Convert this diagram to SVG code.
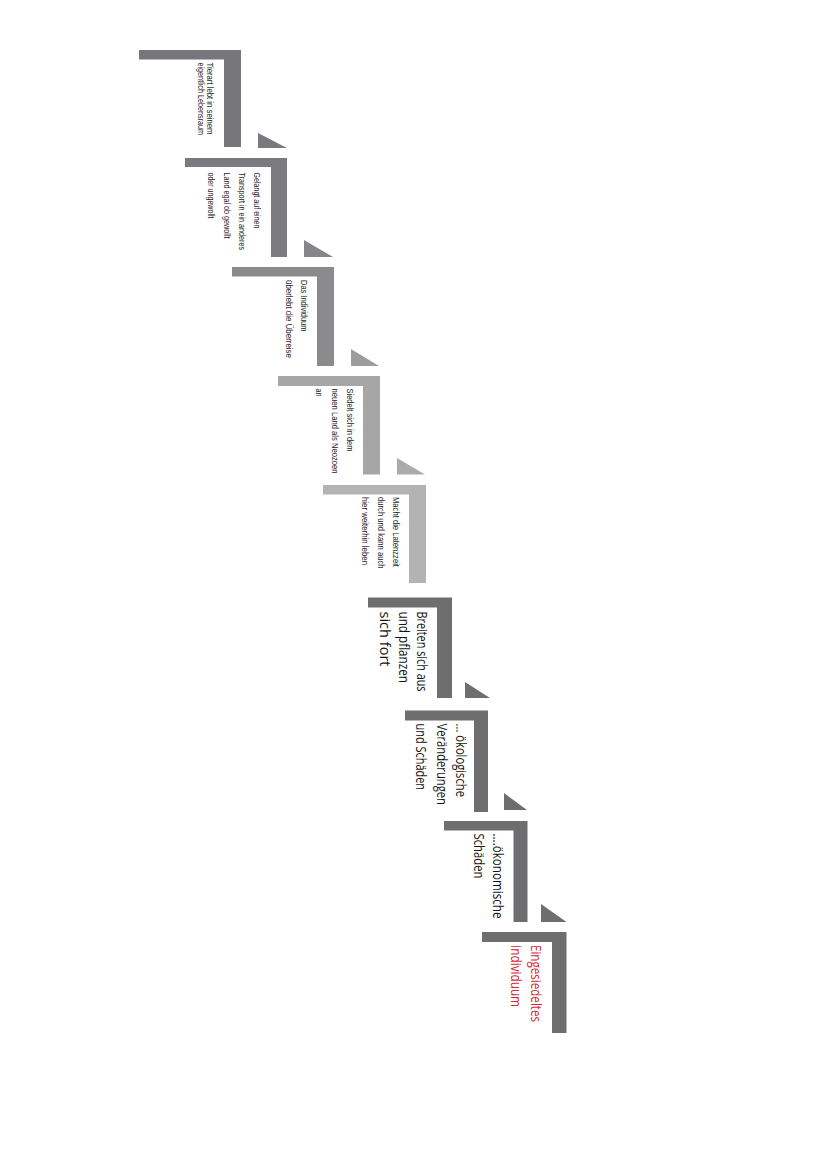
<svg xmlns="http://www.w3.org/2000/svg" width="828" height="1171" viewBox="0 0 828 1171">
<style>
.sm{font-family:"Liberation Sans",Arial,sans-serif;font-size:9.5px;fill:#1e1e1e}
.lg{font-family:"Open Sans","Noto Sans",sans-serif;font-size:15px;fill:#141414}
.red{fill:#d42a33}
</style>
<rect width="828" height="1171" fill="#ffffff"/>
<g id="connectors">
<polygon points="258,133 258,148 287,148" fill="#7a7a7e"/>
<polygon points="304,240 304,257 333,257" fill="#86868a"/>
<polygon points="351,349 351,366 379,366" fill="#9c9c9e"/>
<polygon points="397,458 397,474.5 425,474.5" fill="#ababab"/>
<polygon points="465,682 465,698 490,698" fill="#6e6e71"/>
<polygon points="504,793 504,810 527,810" fill="#6e6e71"/>
<polygon points="541,904 541,922 566.5,922" fill="#6e6e71"/>
</g>
<g id="step1">
<path d="M139,50 H241 V147 H224 V59.5 H139 Z" fill="#77777b"/>
<text class="sm" transform="translate(207.3,62.5) rotate(90)" textLength="72" lengthAdjust="spacingAndGlyphs">Tierart lebt in seinem</text>
<text class="sm" transform="translate(198.3,62.5) rotate(90)" textLength="72.5" lengthAdjust="spacingAndGlyphs">eigentlich Lebensraum</text>
</g>
<g id="step2">
<path d="M185,158 H287 V257 H271 V167 H185 Z" fill="#7b7b7f"/>
<text class="sm" transform="translate(254.3,172.5) rotate(90)" textLength="56" lengthAdjust="spacingAndGlyphs">Gelangt auf einen</text>
<text class="sm" transform="translate(239.3,172.5) rotate(90)" textLength="77.5" lengthAdjust="spacingAndGlyphs">Transport in ein anderes</text>
<text class="sm" transform="translate(224.3,172.5) rotate(90)" textLength="66" lengthAdjust="spacingAndGlyphs">Land egal ob gewollt</text>
<text class="sm" transform="translate(208.3,172.5) rotate(90)" textLength="46" lengthAdjust="spacingAndGlyphs">oder ungewollt</text>
</g>
<g id="step3">
<path d="M232,267 H334 V366 H317 V276.5 H232 Z" fill="#8b8b8d"/>
<text class="sm" transform="translate(301,280) rotate(90)" textLength="51.5" lengthAdjust="spacingAndGlyphs">Das Individuum</text>
<text class="sm" transform="translate(285.5,280) rotate(90)" textLength="78" lengthAdjust="spacingAndGlyphs">überlebt die Überreise</text>
</g>
<g id="step4">
<path d="M278,376 H380 V474.5 H363 V386 H278 Z" fill="#a6a6a6"/>
<text class="sm" transform="translate(347,388.5) rotate(90)" textLength="63" lengthAdjust="spacingAndGlyphs">Siedelt sich in dem</text>
<text class="sm" transform="translate(331.5,388.5) rotate(90)" textLength="85" lengthAdjust="spacingAndGlyphs">neuen Land als Neozoen</text>
<text class="sm" transform="translate(315.5,388.5) rotate(90)" textLength="8" lengthAdjust="spacingAndGlyphs">an</text>
</g>
<g id="step5">
<path d="M323,485 H426 V583 H409 V494.5 H323 Z" fill="#b3b3b3"/>
<text class="sm" transform="translate(392.5,497) rotate(90)" textLength="70" lengthAdjust="spacingAndGlyphs">Macht die Latenzzeit</text>
<text class="sm" transform="translate(377.5,497) rotate(90)" textLength="71.5" lengthAdjust="spacingAndGlyphs">durch und kann auch</text>
<text class="sm" transform="translate(362,497) rotate(90)" textLength="68" lengthAdjust="spacingAndGlyphs">hier weiterhin leben</text>
</g>
<g id="step6">
<path d="M368,597.5 H452 V698 H437 V607.5 H368 Z" fill="#6e6e71"/>
<text class="lg" transform="translate(417,611.5) rotate(90)" textLength="80" lengthAdjust="spacingAndGlyphs">Breiten sich aus</text>
<text class="lg" transform="translate(398.7,611.5) rotate(90)" textLength="71.5" lengthAdjust="spacingAndGlyphs">und pflanzen</text>
<text class="lg" transform="translate(380.4,611.5) rotate(90)" textLength="55" lengthAdjust="spacingAndGlyphs">sich fort</text>
</g>
<g id="step7">
<path d="M405,710.5 H488 V812 H474 V720.5 H405 Z" fill="#6e6e71"/>
<text class="lg" transform="translate(455.5,723.5) rotate(90)" textLength="73.5" lengthAdjust="spacingAndGlyphs">... ökologische</text>
<text class="lg" transform="translate(436.5,723.5) rotate(90)" textLength="81.5" lengthAdjust="spacingAndGlyphs">Veränderungen</text>
<text class="lg" transform="translate(416.3,723.5) rotate(90)" textLength="66.5" lengthAdjust="spacingAndGlyphs">und Schäden</text>
</g>
<g id="step8">
<path d="M444,821 H527.5 V922 H513.5 V830.5 H444 Z" fill="#6e6e71"/>
<text class="lg" transform="translate(492.5,833.5) rotate(90)" textLength="85" lengthAdjust="spacingAndGlyphs">....ökonomische</text>
<text class="lg" transform="translate(474,833.5) rotate(90)" textLength="45" lengthAdjust="spacingAndGlyphs">Schäden</text>
</g>
<g id="step9">
<path d="M482,932 H566.5 V1033 H552 V942 H482 Z" fill="#6e6e71"/>
<text class="lg red" transform="translate(530.5,945) rotate(90)" textLength="77" lengthAdjust="spacingAndGlyphs">Eingesiedeltes</text>
<text class="lg red" transform="translate(511,945) rotate(90)" textLength="62" lengthAdjust="spacingAndGlyphs">Individuum</text>
</g>
</svg>
